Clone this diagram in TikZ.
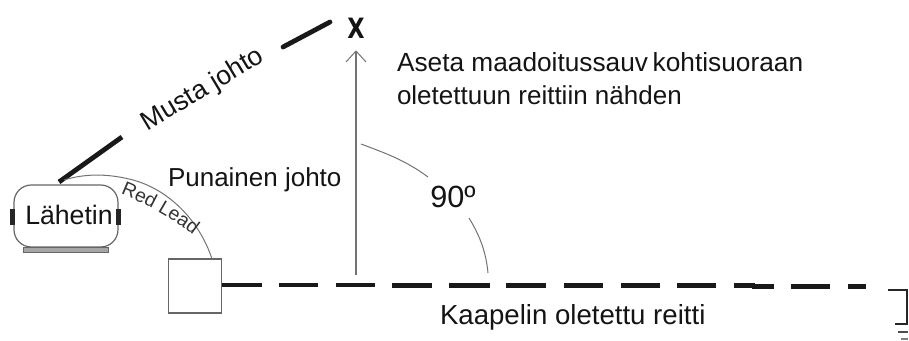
\documentclass[tikz,border=0pt]{standalone}
\usepackage{fontspec}
\setmainfont{Liberation Sans}
\newfontfamily\xmark{DejaVu Sans}
\usetikzlibrary{arrows.meta,decorations.text,patterns}
\newcommand{\fs}[1]{\fontsize{#1}{#1}\selectfont}
\tikzset{
  x=0.75pt,y=-0.75pt,
  lbl/.style={inner sep=0pt,outer sep=0pt,text=black!92,anchor=base west},
  lead/.style={line width=3.6pt,black!90},
  cable/.style={line width=3.2pt,black!90},
  thin gray/.style={line width=0.75pt,black!55},
  boxline/.style={line width=0.9pt,black!60},
}
\begin{document}
\begin{tikzpicture}
\useasboundingbox (0,0) rectangle (909,340);
% transmitter
\node[boxline,draw,rounded corners=13pt,minimum width=78pt,minimum height=46.5pt,inner sep=0pt] (tx) at (66,216) {};
\node[lbl,anchor=base] (txt) at (69,224) {\fs{20}Lähetin};
\node[fill=black!85,minimum width=3.8pt,minimum height=12pt,inner sep=0pt] (barL) at (12.5,217) {};
\node[fill=black!85,minimum width=3.8pt,minimum height=12pt,inner sep=0pt] (barR) at (118.5,217) {};
\node[fill=black!35,draw=black!60,line width=0.5pt,minimum width=64pt,minimum height=3.8pt,inner sep=0pt] (base) at (66,250) {};
% square
\node[draw,boxline,minimum width=40pt,minimum height=40.5pt,inner sep=0pt] (sq) at (195,286) {};
% leads
\coordinate (b1) at (59,182);
\coordinate (b2) at (122,137);
\coordinate (b3) at (283,47);
\coordinate (b4) at (330,22);
\draw[lead] (b1) -- (b2);
\draw[lead,line cap=round] (b3) -- (b4);
\node[lbl,anchor=center,rotate=31] (mj) at (203,90) {\fs{20}Musta johto};
% red lead
\coordinate (r1) at (64,180);
\coordinate (r2) at (212,259);
\draw[thin gray] (r1) .. controls (80,175) and (103,172) .. (133,180) .. controls (170,190) and (200,222) .. (r2);
\path[decorate,decoration={text along path,text={|\fs{14.5}\color{black!80}|Red Lead},text align=center}]
  (116,192) .. controls (145,203) and (172,218) .. (197,238);
% X and arrow
\node[lbl,anchor=center,xscale=0.8] (x) at (356,28) {\xmark\bfseries\fs{21}X};
\coordinate (a1) at (356,275);
\coordinate (a2) at (356,51);
\draw[line width=1pt,black!55] (a1) -- (a2);
\draw[thin gray] (346,62) -- (a2) -- (366,62);
% angle arc
\draw[thin gray] (361,144) .. controls (385,153) and (405,160) .. (428,177);
\draw[thin gray] (469,218) .. controls (480,236) and (486,252) .. (488,273);
\node[lbl,anchor=center] (deg) at (453,197) {\fs{23}90º};
% texts
\node[lbl] (t1) at (397,71) {\fs{19.7}Aseta maadoitussauv\hspace{-2pt} kohtisuoraan};
\node[lbl] (t2) at (397,104) {\fs{19.5}oletettuun reittiin nähden};
\node[lbl] (t3) at (168,186) {\fs{19.5}Punainen johto};
\node[lbl] (t4) at (440,324.5) {\fs{20.7}Kaapelin oletettu reitti};
% cable
\coordinate (c1) at (262,284.7);
\draw[cable] (sq.east |- c1) -- (c1);
\foreach \a/\b/\y in {279/318/284.7,336/375/285,392/432/285.5,449/490/285.5,506/546/285.5,564/603/285.5,621/660/285.5,677/716/285.5,734/755/285.5,752/774/286.5,791/830/286.5,848/866/286.5}
  \draw[cable] (\a,\y) -- (\b,\y);
% ground
\draw[line width=1.5pt,black!85] (888,290) -- (907,290) -- (907,324) -- (895,324);
\draw[line width=1pt,black!70] (898,332) -- (908,332);
\draw[line width=0.8pt,black!50] (901,339) -- (908,339);
\end{tikzpicture}
\end{document}
